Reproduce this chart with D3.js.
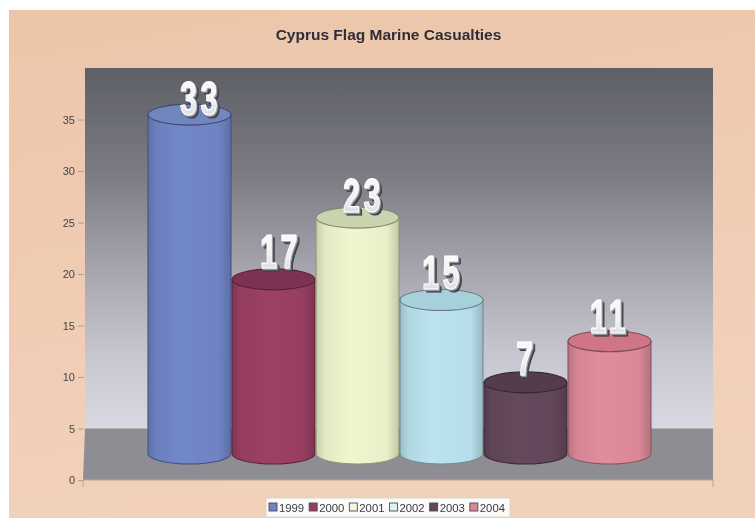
<!DOCTYPE html>
<html><head><meta charset="utf-8">
<script src="https://cdn.jsdelivr.net/npm/d3@7"></script>
<style>html,body{margin:0;padding:0;background:#fff;overflow:hidden}svg{display:block}text{font-family:"Liberation Sans",Arial,sans-serif}</style>
</head><body><svg id="c" width="755" height="518"></svg>
<script>
const years=["1999","2000","2001","2002","2003","2004"];
const casualties=[33,17,23,15,7,11];
const barColors=["#6e83c4","#983e62","#e9efc8","#b6dde9","#624659","#da8898"];
const capColors=["#7086bc","#7e3353","#c9d4ae","#a8d0da","#523d4e","#cf7483"];
const legendColors=["#6e83c4","#983e62","#f4f6e0","#dff1f5","#624659","#da8898"];
const yTicks=[0,5,10,15,20,25,30,35];
const labelShiftX=[11,7,6,1,1,0];
const labelShiftY=[3,-8,-3,-8,-4,-5];

const svg=d3.select("#c");
const defs=svg.append("defs");
const soft=defs.append("filter").attr("id","soft").attr("x","-5%").attr("y","-5%").attr("width","110%").attr("height","110%");
soft.append("feGaussianBlur").attr("stdDeviation",0.55);

const ext=defs.append("filter").attr("id","ext").attr("x","-30%").attr("y","-30%").attr("width","170%").attr("height","170%");
const layers=[[5,3,"#3c3c44"],[3.5,2,"#5a5a63"],[2,1.2,"#85858e"],[1,0.6,"#a8a8b2"]];
layers.forEach((l,i)=>{
  ext.append("feOffset").attr("in","SourceAlpha").attr("dx",l[0]).attr("dy",l[1]).attr("result","o"+i);
  ext.append("feFlood").attr("flood-color",l[2]).attr("result","f"+i);
  ext.append("feComposite").attr("in","f"+i).attr("in2","o"+i).attr("operator","in").attr("result","c"+i);
});
const merge=ext.append("feMerge");
layers.forEach((l,i)=>merge.append("feMergeNode").attr("in","c"+i));
merge.append("feMergeNode").attr("in","SourceGraphic");

const W={l:85,r:713,t:68,b:480};
const y=d3.scaleLinear().domain([0,40]).range([W.b,W.t]);
const x=d3.scaleBand().domain(years).range([148,652]).padding(0);
const depth=25.5, ry=10.5;

const bg=defs.append("linearGradient").attr("id","bg").attr("x1",0).attr("y1",0).attr("x2",0.25).attr("y2",1);
[[0,"#edc6a9"],[1,"#f2d1bb"]].forEach(s=>bg.append("stop").attr("offset",s[0]).attr("stop-color",s[1]));
const wall=defs.append("linearGradient").attr("id","wall").attr("x1",0).attr("y1",0).attr("x2",0).attr("y2",1);
[[0,"#5e5f66"],[0.3,"#7c7c84"],[0.55,"#a5a4ad"],[0.8,"#c8c7d1"],[1,"#d9d7e2"]].forEach(s=>wall.append("stop").attr("offset",s[0]).attr("stop-color",s[1]));

barColors.forEach((c,i)=>{
  const g=defs.append("linearGradient").attr("id","bar"+i).attr("x1",0).attr("x2",1).attr("y1",0).attr("y2",0);
  const base=d3.color(c);
  [[0,base.darker(0.45)],[0.1,base.darker(0.08)],[0.4,base.brighter(0.08)],[0.85,base],[1,base.darker(0.5)]]
    .forEach(s=>g.append("stop").attr("offset",s[0]).attr("stop-color",s[1]));
});
const face=defs.append("linearGradient").attr("id","face").attr("x1",0).attr("x2",0).attr("y1",0).attr("y2",1);
[[0,"#ffffff"],[0.55,"#f1f1f4"],[1,"#cfd0d8"]].forEach(s=>face.append("stop").attr("offset",s[0]).attr("stop-color",s[1]));

svg.append("rect").attr("x",9).attr("y",10).attr("width",746).attr("height",508).attr("fill","url(#bg)");

const root=svg.append("g").attr("filter","url(#soft)");
root.append("text").attr("x",388.5).attr("y",40).attr("text-anchor","middle")
  .attr("font-size",15.5).attr("font-weight","bold").attr("fill","#2d2d3a").text("Cyprus Flag Marine Casualties");

root.append("rect").attr("x",W.l).attr("y",W.t).attr("width",W.r-W.l).attr("height",y(5)-W.t).attr("fill","url(#wall)");
root.append("path").attr("d",`M${W.l},${y(5)}L${W.r},${y(5)}L${W.r},${W.b}L${W.l-2},${W.b}Z`).attr("fill","#8e8d93");

const axis=root.append("g").attr("transform",`translate(${W.l-1},0)`)
  .call(d3.axisLeft(y).tickValues(yTicks).tickSize(6).tickPadding(3));
axis.select(".domain").remove();
axis.selectAll("line").attr("stroke","#a9a098");
axis.selectAll("text").attr("font-size",11).attr("fill","#444").style("font-family",'"Liberation Sans",Arial,sans-serif');
root.append("path").attr("d",`M${W.l-2},${W.b}V${W.b+7}M${W.l-2},${W.b}H${W.r}V${W.b+7}`).attr("fill","none").attr("stroke","#b9a797").attr("stroke-width",1);

const base=y(0)-depth-1;
const bars=root.selectAll("g.bar").data(years).join("g").attr("class","bar");
bars.append("path").attr("d",(d,i)=>{
  const x0=x(d),x1=x0+x.bandwidth()-1,rx=(x1-x0)/2,top=y(casualties[i])-depth;
  return `M${x0},${top}L${x0},${base}A${rx},${ry} 0 0 0 ${x1},${base}L${x1},${top}Z`;
}).attr("fill",(d,i)=>`url(#bar${i})`).attr("stroke",(d,i)=>d3.color(barColors[i]).darker(1.3)).attr("stroke-width",1.1);
bars.append("ellipse")
  .attr("cx",d=>x(d)+(x.bandwidth()-1)/2).attr("cy",(d,i)=>y(casualties[i])-depth)
  .attr("rx",(x.bandwidth()-1)/2).attr("ry",ry)
  .attr("fill",(d,i)=>capColors[i]).attr("stroke",(d,i)=>d3.color(barColors[i]).darker(1.6)).attr("stroke-width",1.1);

root.selectAll("text.val").data(casualties).join("text").attr("class","val")
  .attr("transform",(v,i)=>`translate(${x(years[i])+(x.bandwidth()-1)/2+labelShiftX[i]},${y(v)-depth+labelShiftY[i]-3}) scale(0.62,1)`)
  .attr("text-anchor","middle").attr("font-size",49).attr("font-weight","bold").attr("letter-spacing",6)
  .attr("fill","url(#face)").attr("stroke","#fff").attr("stroke-width",1.2)
  .attr("filter","url(#ext)").text(v=>v);

const lg=root.append("g");
lg.append("rect").attr("x",266).attr("y",498).attr("width",244).attr("height",19).attr("fill","#fbfaf8").attr("stroke","#d8cfc8").attr("stroke-width",0.8);
const li=d3.scaleBand().domain(years).range([269,510]);
const it=lg.selectAll("g").data(years).join("g").attr("transform",d=>`translate(${li(d)},503)`);
it.append("rect").attr("width",8).attr("height",8).attr("fill",(d,i)=>legendColors[i]).attr("stroke","#4a4a55").attr("stroke-width",0.9);
it.append("text").attr("x",10).attr("y",8.5).attr("font-size",11.3).attr("fill","#3a3a42").text(d=>d);
</script></body></html>
